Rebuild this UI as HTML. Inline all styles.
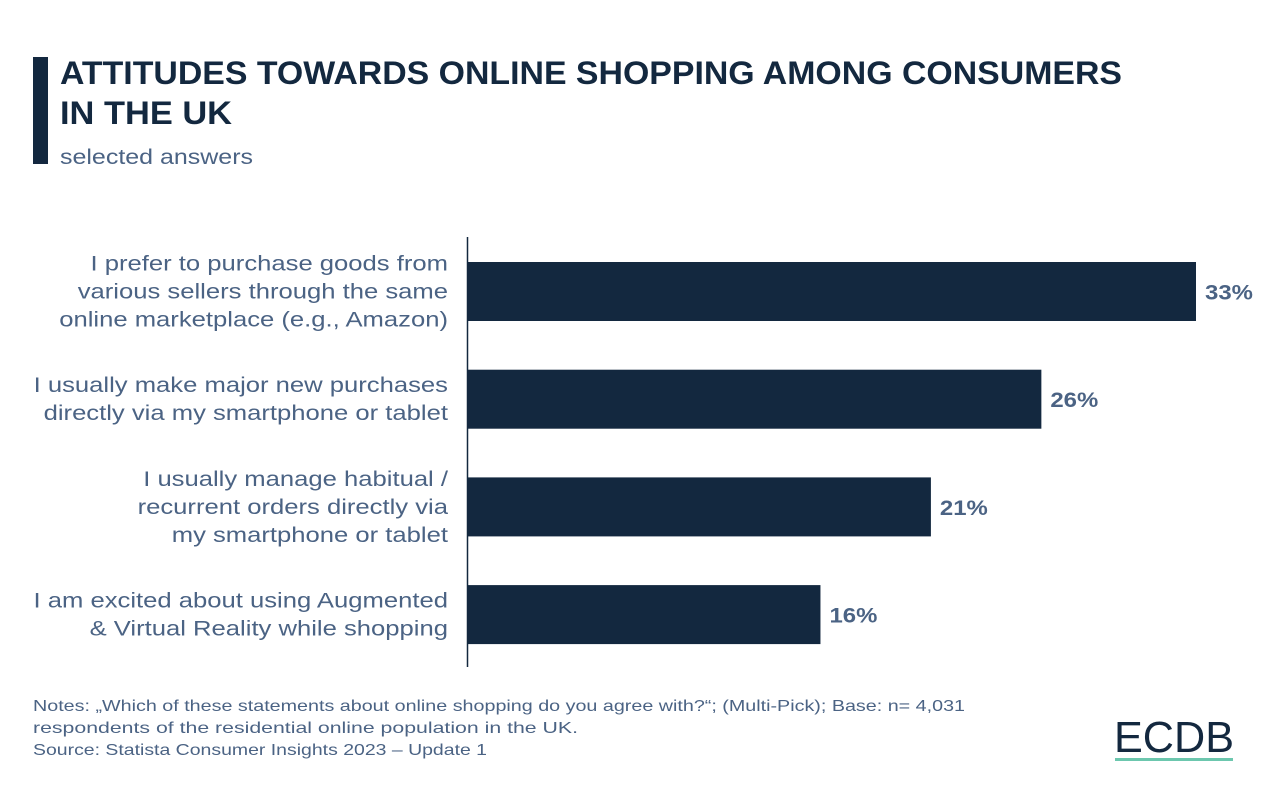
<!DOCTYPE html>
<html><head><meta charset="utf-8"><style>
html,body{margin:0;padding:0;background:#fff;}
svg{display:block;font-family:"Liberation Sans",sans-serif;}
</style></head><body>
<svg id="chart" width="1280" height="808" viewBox="0 0 1280 808">
<rect x="33" y="57" width="15" height="107" fill="#13283f"/>
<text x="60" y="84" font-size="32" font-weight="bold" fill="#13283f" textLength="1062" lengthAdjust="spacingAndGlyphs">ATTITUDES TOWARDS ONLINE SHOPPING AMONG CONSUMERS</text>
<text x="60" y="124" font-size="32" font-weight="bold" fill="#13283f" textLength="172" lengthAdjust="spacingAndGlyphs">IN THE UK</text>
<text x="60" y="164" font-size="21" fill="#4b6384" textLength="193" lengthAdjust="spacingAndGlyphs">selected answers</text>
<line x1="467.5" y1="237" x2="467.5" y2="667" stroke="#13283f" stroke-width="1.5"/>
<g id="bars"></g>
<text font-size="16" fill="#4b6384">
<tspan x="33" y="711" textLength="932" lengthAdjust="spacingAndGlyphs">Notes: „Which of these statements about online shopping do you agree with?“; (Multi-Pick); Base: n= 4,031</tspan>
<tspan x="33" y="733" textLength="545" lengthAdjust="spacingAndGlyphs">respondents of the residential online population in the UK.</tspan>
<tspan x="33" y="755" textLength="454" lengthAdjust="spacingAndGlyphs">Source: Statista Consumer Insights 2023 – Update 1</tspan>
</text>
<text x="1114" y="752" font-size="44" fill="#13283f" textLength="120" lengthAdjust="spacingAndGlyphs">ECDB</text>
<rect x="1115" y="758" width="118" height="3" fill="#6cc7ae"/>
</svg>
<script>
const categories = [
  ["I prefer to purchase goods from","various sellers through the same","online marketplace (e.g., Amazon)"],
  ["I usually make major new purchases","directly via my smartphone or tablet"],
  ["I usually manage habitual /","recurrent orders directly via","my smartphone or tablet"],
  ["I am excited about using Augmented","& Virtual Reality while shopping"]
];
const values = [33, 26, 21, 16];
const valueLabels = ["33%","26%","21%","16%"];

const ns = "http://www.w3.org/2000/svg";
const g = document.getElementById("bars");
const x0 = 467, pxPerUnit = (1196 - 467) / 33;
function xScale(v){ return x0 + v * pxPerUnit; }
function yBand(i){ return 262 + i * 107.7; }
const bandH = 59;
function widen(el, f){
  const w = el.getComputedTextLength();
  el.setAttribute("textLength", w * f);
  el.setAttribute("lengthAdjust", "spacingAndGlyphs");
}
categories.forEach((lines, i) => {
  const y = yBand(i);
  const r = document.createElementNS(ns, "rect");
  r.setAttribute("x", x0);
  r.setAttribute("y", y);
  r.setAttribute("width", xScale(values[i]) - x0);
  r.setAttribute("height", bandH);
  r.setAttribute("fill", "#13283f");
  
  
  g.appendChild(r);
  const v = document.createElementNS(ns, "text");
  v.setAttribute("x", xScale(values[i]) + 9);
  v.setAttribute("y", y + bandH / 2 + 8);
  v.setAttribute("font-size", "21");
  v.setAttribute("font-weight", "bold");
  v.setAttribute("fill", "#4b6384");
  v.textContent = valueLabels[i];
  
  
  g.appendChild(v);
  widen(v, 1.14);
  const t = document.createElementNS(ns, "text");
  t.setAttribute("text-anchor", "end");
  t.setAttribute("font-size", "21");
  t.setAttribute("fill", "#4b6384");
  
  
  g.appendChild(t);
  const cy = y + bandH / 2;
  const start = cy - (lines.length - 1) * 14 + 7;
  lines.forEach((ln, k) => {
    const s = document.createElementNS(ns, "text");
    s.setAttribute("x", 448);
    s.setAttribute("y", start + k * 28);
    s.setAttribute("text-anchor", "end");
    s.setAttribute("font-size", "21");
    s.setAttribute("fill", "#4b6384");
    s.textContent = ln;
    t.appendChild(document.createTextNode(""));
    g.appendChild(s);
    
    
    widen(s, 1.22);
  });
});
</script>
</body></html>
